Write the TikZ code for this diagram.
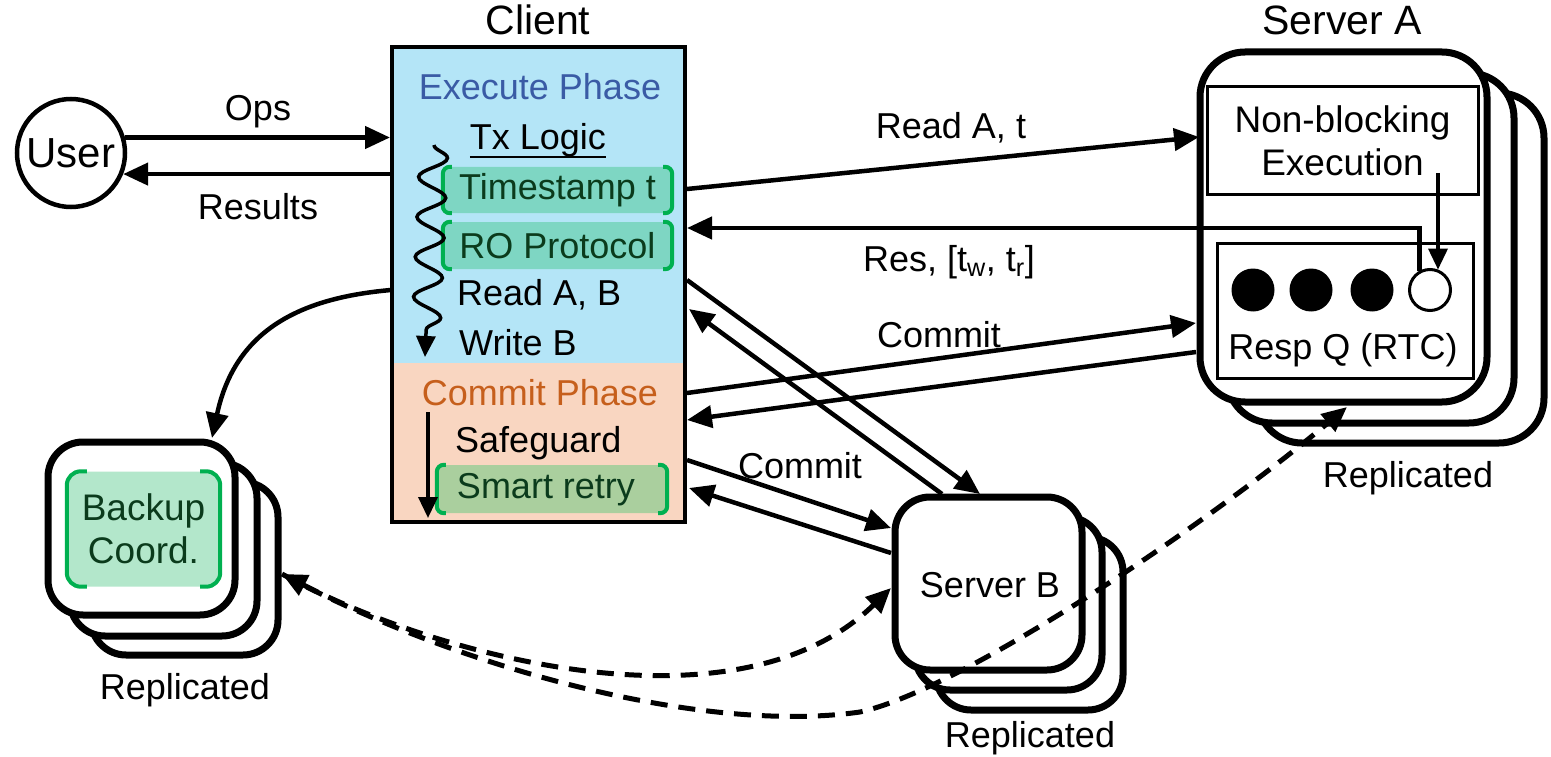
\documentclass[tikz,border=0pt]{standalone}
\usepackage{fontspec}
\setmainfont{Liberation Sans}
\usetikzlibrary{arrows.meta,decorations.pathmorphing,calc}
\definecolor{exblue}{HTML}{B4E5F7}
\definecolor{cmpeach}{HTML}{F9D6C1}
\definecolor{extext}{HTML}{3A5BA5}
\definecolor{cmtext}{HTML}{C65F1C}
\definecolor{tealfill}{HTML}{7ED6C3}
\definecolor{olivefill}{HTML}{AACF9E}
\definecolor{mintfill}{HTML}{B3E7CB}
\definecolor{brgreen}{HTML}{00B050}
\definecolor{dkgreen}{HTML}{0B3B1C}
\tikzset{
 arr/.style={line width=4.5pt, -{Triangle[length=25pt,width=22pt]}},
 thinarr/.style={line width=3.5pt, -{Triangle[length=21pt,width=19pt]}},
 srvbox/.style={draw, line width=7pt, fill=white, inner sep=0pt},
 dsh/.style={line width=5pt, dash pattern=on 17pt off 11pt},
 lbl/.style={inner sep=0pt},
 title/.style={inner sep=0pt, font=\fontsize{41}{45}\selectfont},
 gbox/.style={inner sep=0pt, rounded corners=6pt, text=dkgreen},
 brk/.style={brgreen, line width=4pt, rounded corners=7pt},
}
\begin{document}
\begin{tikzpicture}[x=1pt,y=-1pt,font=\fontsize{36}{43}\selectfont]
\useasboundingbox (0,0) rectangle (1551,757);

% ---------- User ----------
\node[circle, draw, line width=4.5pt, minimum size=108pt, inner sep=0pt, font=\fontsize{42}{46}\selectfont] (user) at (71,153) {User};

% ---------- Client ----------
\node[title] (clientT) at (538,20) {Client};
\fill[exblue] (392,47) rectangle (685,363);
\fill[cmpeach] (392,363) rectangle (685,522);
\node[draw, line width=4pt, minimum width=293pt, minimum height=475pt, inner sep=0pt] (client) at (538.5,284.5) {};

\node[lbl, text=extext] (exph) at (540,87) {Execute Phase};
\node[lbl] (txl) at (538,140) {Tx Logic};
\draw[line width=2.5pt] (txl.south west |- 0,157) -- (txl.south east |- 0,157);

\node[gbox, fill=tealfill, minimum width=229pt, minimum height=46pt] (ts) at (557.5,190) {Timestamp t};
\draw[brk] ($(ts.north west)+(9,0)$) -- (ts.north west) -- (ts.south west) -- ($(ts.south west)+(9,0)$);
\draw[brk] ($(ts.north east)+(-9,0)$) -- (ts.north east) -- (ts.south east) -- ($(ts.south east)+(-9,0)$);

\node[gbox, fill=tealfill, minimum width=229pt, minimum height=47pt] (ro) at (557.5,245.5) {RO Protocol};
\draw[brk] ($(ro.north west)+(9,0)$) -- (ro.north west) -- (ro.south west) -- ($(ro.south west)+(9,0)$);
\draw[brk] ($(ro.north east)+(-9,0)$) -- (ro.north east) -- (ro.south east) -- ($(ro.south east)+(-9,0)$);

\node[lbl, anchor=west] (rab) at (457,295) {Read A, B};
\node[lbl, anchor=west] (wb) at (459,343) {Write B};

\coordinate (wavS) at (434,145);
\coordinate (wavE) at (425,357);
\draw[thinarr, decorate, decoration={snake, amplitude=14pt, segment length=40pt, post length=22pt}] (wavS) -- (wavE);

\node[lbl, text=cmtext] (cmph) at (540,393) {Commit Phase};
\node[lbl, anchor=west] (sg) at (455,443) {Safeguard};
\node[gbox, fill=olivefill, minimum width=230pt, minimum height=48pt] (sr) at (552,489) {};
\node[lbl, text=dkgreen] (srT) at (546,490) {Smart retry};
\draw[brk] ($(sr.north west)+(9,0)$) -- (sr.north west) -- (sr.south west) -- ($(sr.south west)+(9,0)$);
\draw[brk] ($(sr.north east)+(-9,0)$) -- (sr.north east) -- (sr.south east) -- ($(sr.south east)+(-9,0)$);

\coordinate (cpS) at (428,412);
\coordinate (cpE) at (428,518);
\draw[thinarr] (cpS) -- (cpE);

% ---------- Server A ----------
\node[title] (srvAT) at (1342,20) {Server A};
\node[srvbox, rounded corners=45pt, minimum width=287pt, minimum height=350pt] (sa3) at (1400.5,268) {};
\node[srvbox, rounded corners=45pt, minimum width=287pt, minimum height=350pt] (sa2) at (1370.5,248) {};
\node[srvbox, rounded corners=45pt, minimum width=287pt, minimum height=350pt] (sa) at (1343.5,227) {};
\node[draw, line width=3pt, minimum width=271pt, minimum height=108pt, inner sep=0pt, align=center, font=\fontsize{37}{43}\selectfont] (nbex) at (1342.5,141) {Non-blocking\\Execution};
\node[draw, line width=3pt, minimum width=256pt, minimum height=135pt, inner sep=0pt] (rq) at (1345,310.5) {};
\node[circle, fill=black, minimum size=43pt, inner sep=0pt] (c1) at (1253,290) {};
\node[circle, fill=black, minimum size=43pt, inner sep=0pt] (c2) at (1311,290) {};
\node[circle, fill=black, minimum size=43pt, inner sep=0pt] (c3) at (1372,290) {};
\node[circle, draw, line width=3pt, fill=white, minimum size=41pt, inner sep=0pt] (c4) at (1430,290) {};
\node[lbl] (rqT) at (1343,350) {Resp Q (RTC)};
\node[lbl] (repA) at (1408,478) {Replicated};

\coordinate (exOut) at (1438,173);
\draw[thinarr] (exOut) -- (exOut |- c4.68);

% ---------- Server B ----------
\node[srvbox, rounded corners=35pt, minimum width=187pt, minimum height=173pt] (sb3) at (1029.5,623.5) {};
\node[srvbox, rounded corners=35pt, minimum width=187pt, minimum height=173pt] (sb2) at (1008.5,603.5) {};
\node[srvbox, rounded corners=35pt, minimum width=187pt, minimum height=173pt] (sb) at (988.5,583.5) {};
\node[lbl] (sbT) at (990,585) {Server B};
\node[lbl] (repB) at (1030,738) {Replicated};

% ---------- Backup ----------
\node[srvbox, rounded corners=35pt, minimum width=187pt, minimum height=173pt] (bk3) at (184.5,568.5) {};
\node[srvbox, rounded corners=35pt, minimum width=187pt, minimum height=173pt] (bk2) at (163.5,549.5) {};
\node[srvbox, rounded corners=35pt, minimum width=187pt, minimum height=173pt] (bk) at (141.5,528.5) {};
\node[gbox, rounded corners=12pt, fill=mintfill, minimum width=153pt, minimum height=115pt, align=center, font=\fontsize{37}{43}\selectfont] (bkin) at (143.5,529) {Backup\\Coord.};
\draw[brk, rounded corners=14pt] ($(bkin.north west)+(20,0)$) -- (bkin.north west) -- (bkin.south west) -- ($(bkin.south west)+(20,0)$);
\draw[brk, rounded corners=14pt] ($(bkin.north east)+(-20,0)$) -- (bkin.north east) -- (bkin.south east) -- ($(bkin.south east)+(-20,0)$);
\node[lbl] (repBk) at (185,690) {Replicated};

% ---------- connectors ----------
\draw[arr] (user.16) -- (user.16 -| client.west);
\node[lbl] (opsL) at (258,112) {Ops};
\draw[arr] (user.-22 -| client.west) -- (user.-22);
\node[lbl] (resL) at (258,207) {Results};

\coordinate (rdS) at (687,189);
\coordinate (rdE) at (1199,137);
\draw[arr] (rdS) -- (rdE);
\node[lbl] (rdL) at (951,128) {Read A, t};

\coordinate (resY) at (0,228);
\draw[arr] (c4.118) -- (c4.118 |- resY) -- (client.east |- resY);
\node[lbl] (resAL) at (949,262) {Res, [t\textsubscript{w}, t\textsubscript{r}]};

\coordinate (caS) at (687,393);
\coordinate (caE) at (1196,323);
\draw[arr] (caS) -- (caE);
\coordinate (caRS) at (1196,352);
\coordinate (caRE) at (687,420);
\draw[arr] (caRS) -- (caRE);
\node[lbl] (caL) at (939,335) {Commit};

\coordinate (rbS) at (687,280);
\coordinate (rbE) at (980,494);
\draw[arr] (rbS) -- (rbE);
\coordinate (rbRS) at (942,494);
\coordinate (rbRE) at (689,309);
\draw[arr] (rbRS) -- (rbRE);

\coordinate (cbS) at (687,460);
\coordinate (cbE) at (891,528);
\draw[arr] (cbS) -- (cbE);
\coordinate (cbRS) at (891,553);
\coordinate (cbRE) at (689,488);
\draw[arr] (cbRS) -- (cbRE);
\node[lbl] (cbL) at (800,466) {Commit};

\coordinate (bkS) at (391,290);
\coordinate (bkE) at (212,438);
\draw[arr] (bkS) .. controls (300,298) and (235,330) .. (bkE);

% dashed
\coordinate (dBk) at (282,574);
\coordinate (dSb) at (891,588);
\coordinate (dSa) at (1347,407);
\coordinate (dMid) at (860,712);
\draw[dsh, {Triangle[length=25pt,width=22pt]}-{Triangle[length=25pt,width=22pt]}] (dBk) .. controls (450,660) and (740,735) .. (dSb);
\draw[dsh, -{Triangle[length=25pt,width=22pt]}] (dBk) .. controls (450,665) and (700,735) .. (dMid) .. controls (960,690) and (1200,530) .. (dSa);
\end{tikzpicture}
\end{document}
